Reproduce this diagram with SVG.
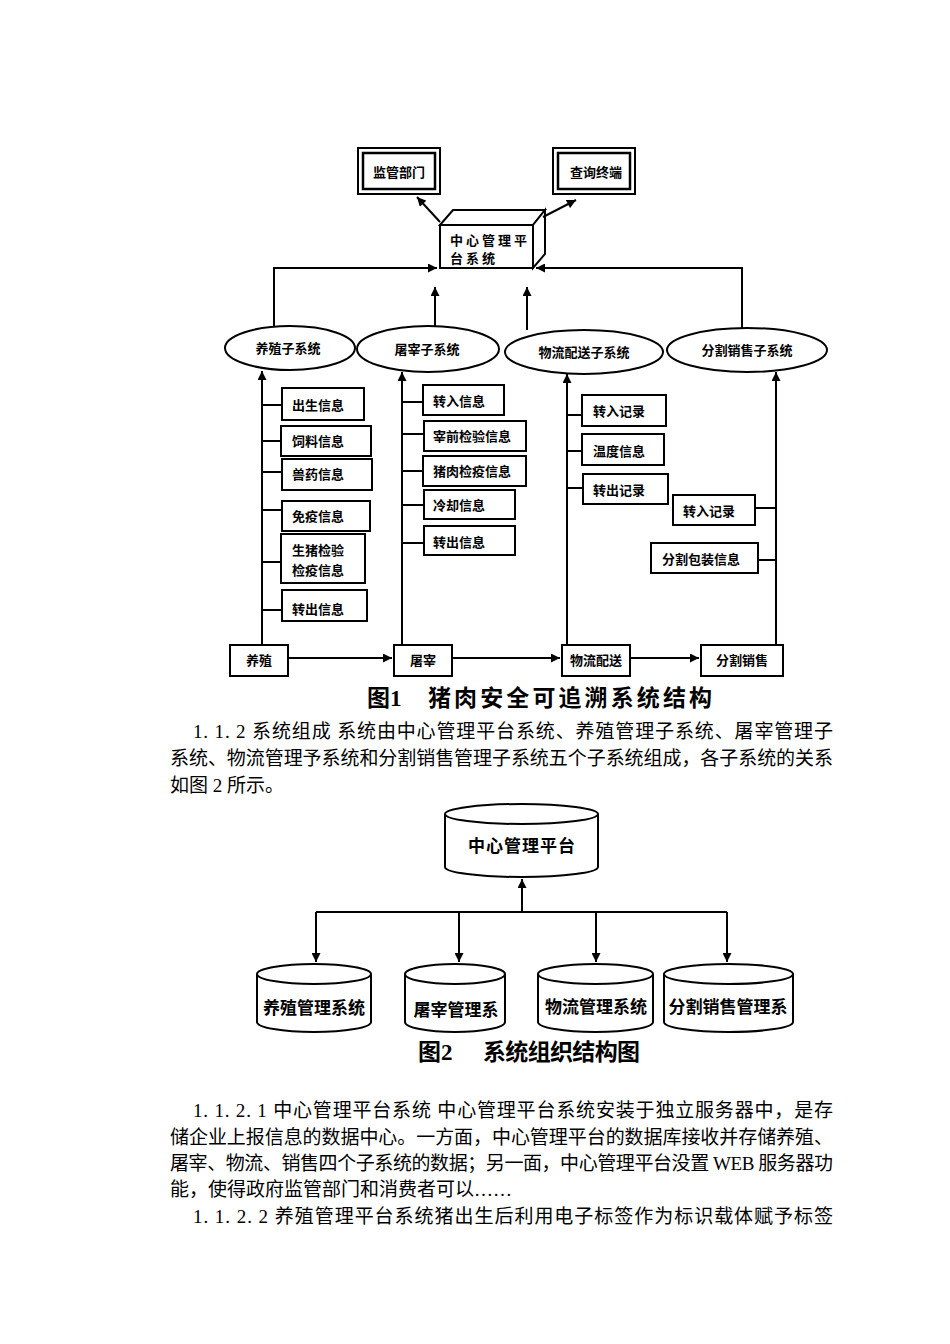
<svg xmlns="http://www.w3.org/2000/svg" width="950" height="1344" viewBox="0 0 950 1344">
<defs>
<marker id="ah" viewBox="0 0 10 10" refX="10" refY="5" markerWidth="10" markerHeight="9" orient="auto" markerUnits="userSpaceOnUse"><path d="M0,0 L10,5 L0,10 z" fill="#000"/></marker>
<style>
.bx{fill:#fff;stroke:#000;stroke-width:2}
.ln{fill:none;stroke:#000;stroke-width:2}
.t{font-family:"Noto Sans CJK SC","Liberation Sans",sans-serif;font-size:13px;font-weight:bold;fill:#000}
.tc{text-anchor:middle}
.t2{font-family:"Noto Sans CJK SC","Liberation Sans",sans-serif;font-size:17px;font-weight:bold;fill:#000;text-anchor:middle}
.cap{font-family:"Liberation Serif","Noto Sans CJK SC",serif;font-size:23px;font-weight:bold;fill:#000}
.p{font-family:"Liberation Serif","Noto Sans CJK SC",serif;font-size:19px;fill:#000}
</style>
</defs>
<rect width="950" height="1344" fill="#fff"/>

<!-- Figure 1 -->
<g id="n-jianguan">
<rect x="358" y="148" width="82" height="46" class="bx" stroke-width="1.5"/>
<rect x="363" y="153" width="72" height="36" fill="none" stroke="#000" stroke-width="2.5"/>
<text x="399" y="177" class="t tc">监管部门</text>
</g>
<g id="n-chaxun">
<rect x="553" y="148" width="82" height="46" class="bx" stroke-width="1.5"/>
<rect x="558" y="153" width="72" height="36" fill="none" stroke="#000" stroke-width="2.5"/>
<text x="596" y="177" class="t tc">查询终端</text>
</g>
<g id="n-center">
<path d="M440,225 L453,210 L545,210 L533,225 Z" class="bx"/>
<path d="M533,225 L545,210 L545,254 L533,268 Z" class="bx"/>
<rect x="440" y="225" width="93" height="43" class="bx"/>
<text x="450" y="245" class="t" letter-spacing="3">中心管理平</text>
<text x="450" y="263" class="t" letter-spacing="3">台系统</text>
</g>

<g id="n-e1"><ellipse cx="290" cy="348" rx="65" ry="22" class="bx"/><text x="288" y="353" class="t tc">养殖子系统</text></g>
<g id="n-e2"><ellipse cx="428" cy="349" rx="71" ry="23" class="bx"/><text x="427" y="354" class="t tc">屠宰子系统</text></g>
<g id="n-e3"><ellipse cx="584" cy="352" rx="79" ry="22" class="bx"/><text x="584" y="357" class="t tc">物流配送子系统</text></g>
<g id="n-e4"><ellipse cx="747" cy="350" rx="80" ry="22" class="bx"/><text x="747" y="355" class="t tc">分割销售子系统</text></g>

<g id="n-a1"><rect x="282" y="388" width="82" height="32" class="bx"/><text x="292" y="410" class="t">出生信息</text></g>
<g id="n-a2"><rect x="281" y="426" width="90" height="30" class="bx"/><text x="292" y="446" class="t">饲料信息</text></g>
<g id="n-a3"><rect x="282" y="459" width="90" height="31" class="bx"/><text x="292" y="479" class="t">兽药信息</text></g>
<g id="n-a4"><rect x="282" y="501" width="88" height="30" class="bx"/><text x="292" y="521" class="t">免疫信息</text></g>
<g id="n-a5"><rect x="281" y="534" width="84" height="49" class="bx"/><text x="292" y="555" class="t">生猪检验</text><text x="292" y="575" class="t">检疫信息</text></g>
<g id="n-a6"><rect x="282" y="590" width="85" height="31" class="bx"/><text x="292" y="614" class="t">转出信息</text></g>

<g id="n-b1"><rect x="423" y="385" width="81" height="30" class="bx"/><text x="433" y="406" class="t">转入信息</text></g>
<g id="n-b2"><rect x="424" y="421" width="102" height="30" class="bx"/><text x="433" y="441" class="t">宰前检验信息</text></g>
<g id="n-b3"><rect x="423" y="456" width="103" height="30" class="bx"/><text x="433" y="476" class="t">猪肉检疫信息</text></g>
<g id="n-b4"><rect x="424" y="490" width="91" height="29" class="bx"/><text x="433" y="510" class="t">冷却信息</text></g>
<g id="n-b5"><rect x="424" y="526" width="91" height="29" class="bx"/><text x="433" y="547" class="t">转出信息</text></g>

<g id="n-c1"><rect x="582" y="395" width="84" height="31" class="bx"/><text x="593" y="416" class="t">转入记录</text></g>
<g id="n-c2"><rect x="582" y="434" width="82" height="31" class="bx"/><text x="593" y="456" class="t">温度信息</text></g>
<g id="n-c3"><rect x="583" y="474" width="85" height="30" class="bx"/><text x="593" y="495" class="t">转出记录</text></g>

<g id="n-d1"><rect x="673" y="495" width="82" height="30" class="bx"/><text x="683" y="516" class="t">转入记录</text></g>
<g id="n-d2"><rect x="651" y="543" width="107" height="30" class="bx"/><text x="662" y="564" class="t">分割包装信息</text></g>

<g id="n-s1"><rect x="230" y="645" width="58" height="31" class="bx"/><text x="259" y="665" class="t tc">养殖</text></g>
<g id="n-s2"><rect x="394" y="645" width="58" height="31" class="bx"/><text x="423" y="665" class="t tc">屠宰</text></g>
<g id="n-s3"><rect x="562" y="645" width="68" height="31" class="bx"/><text x="596" y="665" class="t tc">物流配送</text></g>
<g id="n-s4"><rect x="701" y="645" width="82" height="31" class="bx"/><text x="742" y="665" class="t tc">分割销售</text></g>

<g id="connectors1" class="ln">
<path d="M440,222 L417,197" marker-end="url(#ah)"/>
<path d="M543,217 L576,200" marker-end="url(#ah)"/>
<path d="M274,327 L274,268 L437,268" marker-end="url(#ah)"/>
<path d="M742,328 L742,268 L536,268" marker-end="url(#ah)"/>
<path d="M435,326 L435,287" marker-end="url(#ah)"/>
<path d="M527,330 L527,287" marker-end="url(#ah)"/>
<path d="M262,645 L262,371" marker-end="url(#ah)"/>
<path d="M402,645 L402,372" marker-end="url(#ah)"/>
<path d="M567,645 L567,374" marker-end="url(#ah)"/>
<path d="M776,645 L776,372" marker-end="url(#ah)"/>
<path d="M262,405 H282 M262,441 H281 M262,472 H282 M262,510 H282 M262,562 H281 M262,610 H282"/>
<path d="M402,402 H423 M402,434 H424 M402,471 H423 M402,505 H424 M402,543 H424"/>
<path d="M567,415 H582 M567,451 H582 M567,488 H583"/>
<path d="M755,508 H776 M758,560 H776"/>
<path d="M288,658 L392,658" marker-end="url(#ah)"/>
<path d="M452,658 L560,658" marker-end="url(#ah)"/>
<path d="M630,658 L699,658" marker-end="url(#ah)"/>
</g>

<text x="367" y="706" class="cap">图1</text>
<text x="428" y="706" class="cap" textLength="284" lengthAdjust="spacing">猪肉安全可追溯系统结构</text>

<text x="193" y="738" class="p" textLength="640" lengthAdjust="spacing">1. 1. 2 系统组成 系统由中心管理平台系统、养殖管理子系统、屠宰管理子</text>
<text x="170" y="765" class="p" textLength="663" lengthAdjust="spacing">系统、物流管理予系统和分割销售管理子系统五个子系统组成，各子系统的关系</text>
<text x="170" y="792" class="p">如图 2 所示。</text>

<!-- Figure 2 -->
<g id="n-cyl-center">
<path d="M445,814 A76.5,10 0 0 1 598,814 L598,867 A76.5,10 0 0 1 445,867 Z" class="bx"/>
<path d="M445,814 A76.5,10 0 0 0 598,814" class="ln"/>
<text x="522" y="852" class="t2" font-size="16" letter-spacing="1">中心管理平台</text>
</g>
<g id="n-cyl1">
<path d="M257,974 A57,10 0 0 1 371,974 L371,1022 A57,10 0 0 1 257,1022 Z" class="bx"/>
<path d="M257,974 A57,10 0 0 0 371,974" class="ln"/>
<text x="314" y="1014" class="t2">养殖管理系统</text>
</g>
<g id="n-cyl2">
<path d="M405,974 A50,10 0 0 1 505,974 L505,1022 A50,10 0 0 1 405,1022 Z" class="bx"/>
<path d="M405,974 A50,10 0 0 0 505,974" class="ln"/>
<text x="456" y="1016" class="t2">屠宰管理系</text>
</g>
<g id="n-cyl3">
<path d="M538,974 A57.5,10 0 0 1 653,974 L653,1022 A57.5,10 0 0 1 538,1022 Z" class="bx"/>
<path d="M538,974 A57.5,10 0 0 0 653,974" class="ln"/>
<text x="596" y="1013" class="t2">物流管理系统</text>
</g>
<g id="n-cyl4">
<path d="M664,974 A64.5,10 0 0 1 793,974 L793,1022 A64.5,10 0 0 1 664,1022 Z" class="bx"/>
<path d="M664,974 A64.5,10 0 0 0 793,974" class="ln"/>
<text x="728" y="1013" class="t2">分割销售管理系</text>
</g>

<g id="connectors2" class="ln" stroke-width="3">
<path d="M522,912 L522,879" marker-end="url(#ah)"/>
<path d="M316,912 L727,912"/>
<path d="M316,912 L316,962" marker-end="url(#ah)"/>
<path d="M459,912 L459,962" marker-end="url(#ah)"/>
<path d="M596,912 L596,962" marker-end="url(#ah)"/>
<path d="M727,912 L727,962" marker-end="url(#ah)"/>
</g>

<text x="418" y="1060" class="cap" font-size="22">图2</text>
<text x="483" y="1060" class="cap" font-size="22" textLength="157" lengthAdjust="spacing">系统组织结构图</text>

<text x="193" y="1117" class="p" textLength="640" lengthAdjust="spacing">1. 1. 2. 1 中心管理平台系统 中心管理平台系统安装于独立服务器中，是存</text>
<text x="170" y="1144" class="p" textLength="663" lengthAdjust="spacing">储企业上报信息的数据中心。一方面，中心管理平台的数据库接收并存储养殖、</text>
<text x="170" y="1170" class="p" textLength="663" lengthAdjust="spacing">屠宰、物流、销售四个子系统的数据；另一面，中心管理平台没置 WEB 服务器功</text>
<text x="170" y="1196" class="p">能，使得政府监管部门和消费者可以……</text>
<text x="193" y="1223" class="p" textLength="640" lengthAdjust="spacing">1. 1. 2. 2 养殖管理平台系统猪出生后利用电子标签作为标识载体赋予标签</text>
</svg>
